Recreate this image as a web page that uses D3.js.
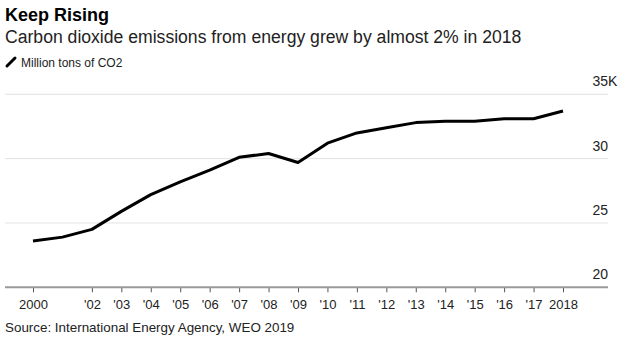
<!DOCTYPE html>
<html>
<head>
<meta charset="utf-8">
<script src="https://cdn.jsdelivr.net/npm/d3@7"></script>
<style>
  body { margin: 0; background: #fff; }
  text { font-family: "Liberation Sans", Arial, sans-serif; }
</style>
</head>
<body>
<svg id="chart" width="634" height="347"></svg>
<script>
// data
var years = [2000, 2001, 2002, 2003, 2004, 2005, 2006, 2007, 2008, 2009,
             2010, 2011, 2012, 2013, 2014, 2015, 2016, 2017, 2018];
var emissions = [23.6, 23.9, 24.5, 25.9, 27.2, 28.2, 29.1, 30.1, 30.4, 29.7,
                 31.2, 32.0, 32.4, 32.8, 32.9, 32.9, 33.1, 33.1, 33.7];
var tickYears = [2000, 2002, 2003, 2004, 2005, 2006, 2007, 2008, 2009, 2010,
                 2011, 2012, 2013, 2014, 2015, 2016, 2017, 2018];
var yTicks = [20, 25, 30, 35];

var svg = d3.select("#chart");

var x = d3.scaleLinear().domain([2000, 2018]).range([33, 563]);
var y = d3.scaleLinear().domain([20, 35]).range([287.3, 94.3]);

var gridLeft = 5, gridRight = 608;

// header
svg.append("text").attr("x", 5).attr("y", 21)
    .attr("font-size", 18).attr("font-weight", "bold").attr("fill", "#000")
    .text("Keep Rising");
svg.append("text").attr("x", 5).attr("y", 43)
    .attr("font-size", 17.6).attr("fill", "#222")
    .text("Carbon dioxide emissions from energy grew by almost 2% in 2018");
svg.append("line")
    .attr("x1", 7).attr("y1", 66).attr("x2", 15).attr("y2", 58)
    .attr("stroke", "#000").attr("stroke-width", 3).attr("stroke-linecap", "round");
svg.append("text").attr("x", 21).attr("y", 67)
    .attr("font-size", 12).attr("fill", "#222")
    .text("Million tons of CO2");

// gridlines
svg.selectAll(".grid").data(yTicks.filter(function(d) { return d > 20; }))
  .enter().append("line")
    .attr("class", "grid")
    .attr("x1", gridLeft).attr("x2", gridRight)
    .attr("y1", function(d) { return y(d); })
    .attr("y2", function(d) { return y(d); })
    .attr("stroke", "#e2e2e2").attr("stroke-width", 1);

// y labels
svg.selectAll(".ylab").data(yTicks)
  .enter().append("text")
    .attr("class", "ylab")
    .attr("x", gridRight).attr("y", function(d) { return y(d) - 8; })
    .attr("font-size", 14).attr("fill", "#222")
    .text(function(d) { return d; })
    .attr("text-anchor", "end");
// "K" suffix hangs past the number column
svg.append("text")
    .attr("x", gridRight).attr("y", y(35) - 8)
    .attr("font-size", 14).attr("fill", "#222")
    .text("K");

// x axis
var xAxis = d3.axisBottom(x)
    .tickValues(tickYears)
    .tickSize(5)
    .tickFormat(function(d) {
        if (d == 2000 || d == 2018) return d;
        return "'" + String(d).slice(2);
    });
var gx = svg.append("g").attr("transform", "translate(0,287.3)").call(xAxis);
gx.select(".domain").remove();
gx.selectAll(".tick line").attr("stroke", "#555");
gx.selectAll(".tick text")
    .attr("font-family", "'Liberation Sans', Arial, sans-serif")
    .attr("font-size", 13).attr("fill", "#222").attr("dy", null).attr("y", 22);
svg.append("line")
    .attr("x1", gridLeft).attr("x2", gridRight)
    .attr("y1", 287.3).attr("y2", 287.3)
    .attr("stroke", "#999").attr("stroke-width", 2);

// the line
var line = d3.line()
    .x(function(d, i) { return x(years[i]); })
    .y(function(d) { return y(d); });
svg.append("path").datum(emissions)
    .attr("d", line)
    .attr("fill", "none").attr("stroke", "#000")
    .attr("stroke-width", 3).attr("stroke-linejoin", "round");

// source
svg.append("text").attr("x", 5).attr("y", 332)
    .attr("font-size", 13.4).attr("fill", "#222")
    .text("Source: International Energy Agency, WEO 2019");
</script>
</body>
</html>
